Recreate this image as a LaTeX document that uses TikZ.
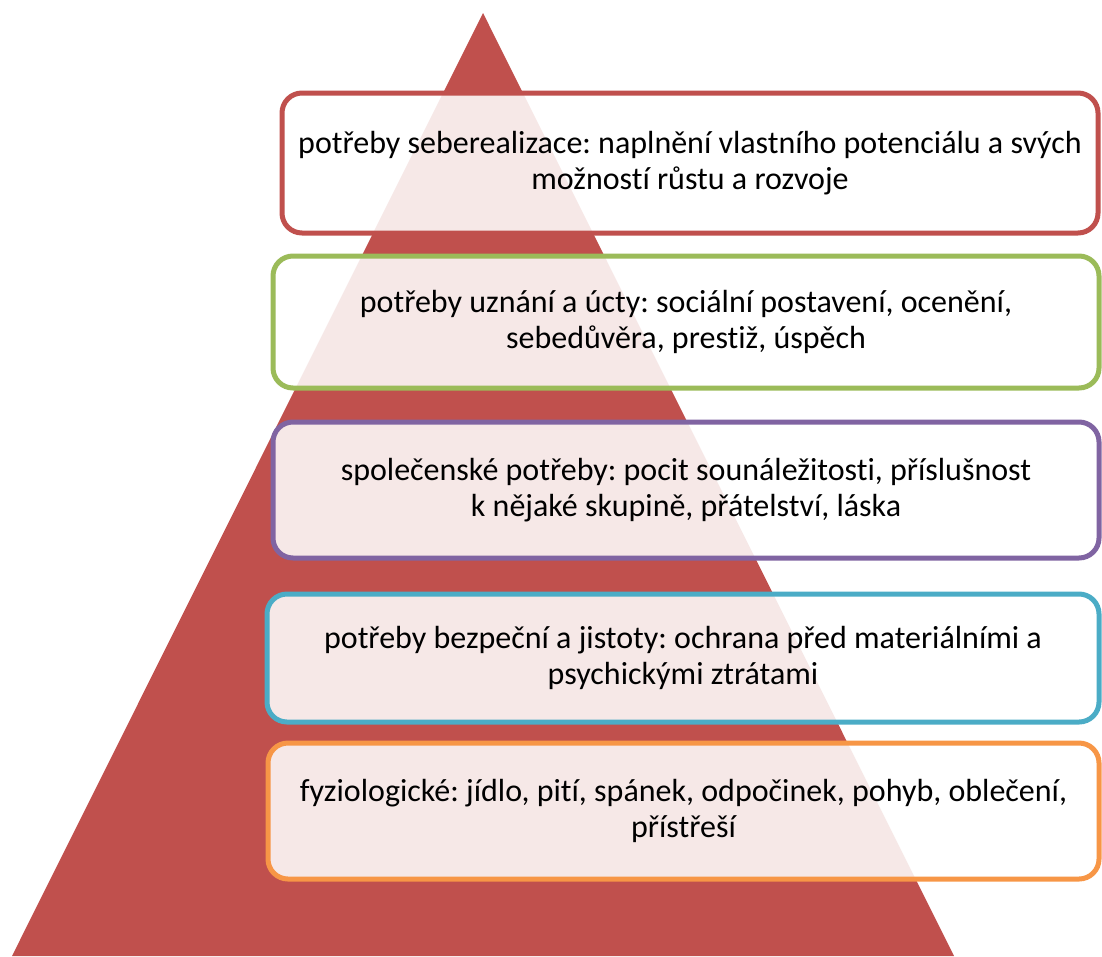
\documentclass[tikz,border=0pt]{standalone}
\usepackage{fontspec}
\setmainfont{Carlito}[Ligatures=NoCommon]
\usetikzlibrary{calc}
\frenchspacing

\definecolor{pyrred}{HTML}{C0504D}
\definecolor{levred}{HTML}{C0504D}
\definecolor{levgreen}{HTML}{9BBB59}
\definecolor{levpurple}{HTML}{8064A2}
\definecolor{levcyan}{HTML}{4BACC6}
\definecolor{levorange}{HTML}{F79646}

\begin{document}
\begin{tikzpicture}[x=1pt, y=-1pt,
		level/.style={draw=#1, line width=5pt, rounded corners=20pt,
			fill=white, fill opacity=0.87, text opacity=1,
			align=center, inner sep=0pt,
			font=\fontsize{32}{36}\selectfont}]
		\useasboundingbox (0,0) rectangle (1102,956);
		\coordinate (Apex)      at (483,13);
		\coordinate (BaseLeft)  at (12,956);
		\coordinate (BaseRight) at (954,956);
		
		% pyramid behind the levels
		\fill[pyrred] (Apex) -- (BaseLeft) -- (BaseRight) -- cycle;
		
		% levels, top to bottom
		\node[level=levred, minimum width=816pt, minimum height=140pt]
			(selfreal) at (690,163)
			{potřeby seberealizace: naplnění vlastního potenciálu a svých\\možností růstu a rozvoje};
		\node[level=levgreen, minimum width=826pt, minimum height=132pt]
			(esteem) at (686,322)
			{potřeby uznání a úcty: sociální postavení, ocenění,\\sebedůvěra, prestiž, úspěch};
		\node[level=levpurple, minimum width=826pt, minimum height=136pt]
			(social) at (686,490)
			{společenské potřeby: pocit sounáležitosti, příslušnost\\k nějaké skupině, přátelství, láska};
		\node[level=levcyan, minimum width=832pt, minimum height=128pt]
			(safety) at (683,658)
			{potřeby bezpeční a jistoty: ochrana před materiálními a\\psychickými ztrátami};
		\node[level=levorange, minimum width=831pt, minimum height=136pt]
			(physio) at (683.5,811)
			{fyziologické: jídlo, pití, spánek, odpočinek, pohyb, oblečení,\\přístřeší};
		
	\end{tikzpicture}
\end{document}
